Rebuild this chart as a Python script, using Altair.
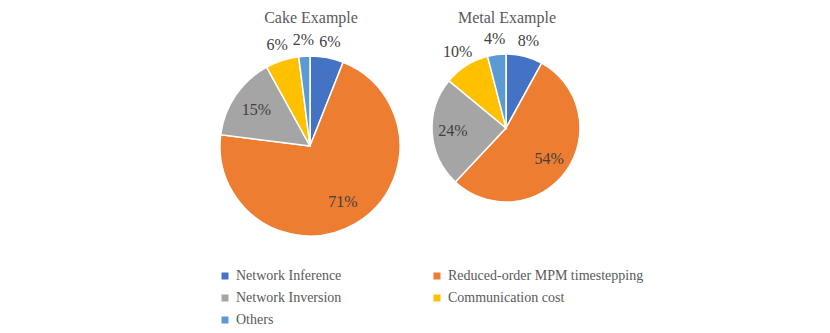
import altair as alt
import pandas as pd

categories = ["Network Inference", "Reduced-order MPM timestepping",
              "Network Inversion", "Communication cost", "Others"]
cake_values = [6, 71, 15, 6, 2]
metal_values = [8, 54, 24, 10, 4]
colors = ["#4472C4", "#ED7D31", "#A5A5A5", "#FFC000", "#5B9BD5"]
titles = ["Cake Example", "Metal Example"]
# legend reading order (laid out column by column in a 3x2 grid)
legend_order = ["Network Inference", "Network Inversion", "Others",
                "Reduced-order MPM timestepping", "Communication cost"]

FONT = "'Liberation Serif', 'Times New Roman', 'DejaVu Serif', serif"

rows = []
for ex, vals in zip(titles, [cake_values, metal_values]):
    for i, (c, v) in enumerate(zip(categories, vals)):
        rows.append({"example": ex, "category": c, "value": v, "idx": i})
df = pd.DataFrame(rows)

# layout of each pie: center x, center y, radius (pixels in plot area)
layout = {"Cake Example": (302, 138, 90), "Metal Example": (498, 120, 74)}

legend = alt.Legend(
    title=None, orient="none", legendX=210, legendY=261, columns=2,
    values=legend_order,
    symbolType="square", symbolSize=49, symbolStrokeWidth=0,
    labelFont=FONT, labelFontSize=14, labelColor="#595959",
    labelLimit=400, labelOffset=4, columnPadding=88, rowPadding=8,
)
color = alt.Color("category:N", scale=alt.Scale(domain=categories, range=colors),
                  legend=legend)

layers = []
for ex in titles:
    cx, cy, R = layout[ex]
    filt = alt.Chart(df).transform_filter(alt.datum.example == ex)
    arc = filt.mark_arc(outerRadius=R, stroke="white", strokeWidth=1.5).encode(
        theta=alt.Theta("value:Q", stack=True),
        order=alt.Order("idx:Q"),
        color=color,
        x=alt.value(cx), y=alt.value(cy),
    )
    text = filt.transform_joinaggregate(total="sum(value)").transform_window(
        cum="sum(value)", sort=[alt.SortField("idx")],
        frame=[None, 0],
    ).transform_calculate(
        mid="(datum.cum - datum.value / 2) / datum.total * 2 * PI",
        lr=f"datum.value > 12 ? {R * 0.72} : {R + 16}",
        label="datum.value + '%'",
    ).mark_text(font=FONT, fontSize=16, color="#404040",
                align="center", baseline="middle").encode(
        theta=alt.Theta("mid:Q", scale=None, stack=None),
        radius=alt.Radius("lr:Q", scale=None),
        text="label:N",
        x=alt.value(cx), y=alt.value(cy),
    )
    title = alt.Chart(pd.DataFrame({"t": [ex]})).mark_text(
        font=FONT, fontSize=16, color="#595959",
        align="center", baseline="alphabetic").encode(
        text="t:N", x=alt.value(cx + 1), y=alt.value(15))
    layers += [arc, text, title]

chart = alt.layer(*layers).properties(
    width=814, height=325, padding=0, autosize=alt.AutoSizeParams(type="none")
).configure_view(stroke=None)

chart.save("out.html", embed_options={"renderer": "svg", "actions": False})
